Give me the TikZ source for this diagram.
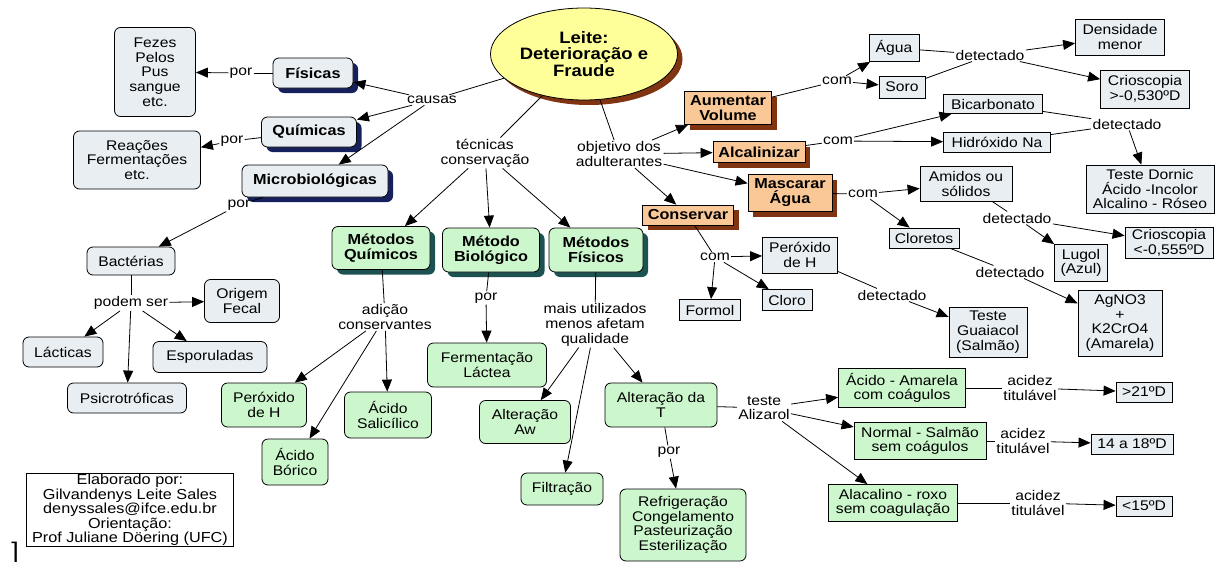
\documentclass[tikz,border=0pt]{standalone}
\usepackage{fontspec}
\setmainfont{Liberation Sans}[FakeStretch=1.12]
\usetikzlibrary{positioning,shapes.geometric,shadows,arrows.meta}

\definecolor{boxblue}{RGB}{232,238,242}
\definecolor{mgreen}{RGB}{204,247,204}
\definecolor{morange}{RGB}{250,200,150}
\definecolor{leiteyel}{RGB}{255,255,153}
\definecolor{navyshade}{RGB}{22,32,92}
\definecolor{tealshade}{RGB}{28,82,82}
\definecolor{brownshade}{RGB}{128,52,18}

\newcommand{\mapfont}{\fontsize{14}{14.7}\selectfont}
\newcommand{\mapfontb}{\fontsize{14.5}{15}\selectfont\bfseries}

\tikzset{
    wh/.style 2 args={minimum width=#1pt, minimum height=#2pt},
    cbox/.style={draw, rounded corners=6pt, fill=boxblue, align=center, inner xsep=2pt, inner ysep=1.5pt, font=\mapfont},
    cboxb/.style={cbox, font=\mapfontb, drop shadow={shadow xshift=5pt, shadow yshift=-5pt, fill=navyshade, opacity=1}},
    gbox/.style={draw, rounded corners=6pt, fill=mgreen, align=center, inner xsep=2pt, inner ysep=1.5pt, font=\mapfont},
    gboxb/.style={gbox, font=\mapfontb, drop shadow={shadow xshift=5pt, shadow yshift=-5pt, fill=tealshade, opacity=1}},
    rbox/.style={draw, fill=boxblue, align=center, inner xsep=2pt, inner ysep=1pt, font=\mapfont},
    grect/.style={rbox, fill=mgreen},
    obox/.style={rbox, font=\mapfontb, fill=morange, drop shadow={shadow xshift=5pt, shadow yshift=-5pt, fill=brownshade, opacity=1}},
    lbl/.style={inner sep=1pt, align=center, font=\mapfont},
    arr/.style={-{Triangle[length=12pt,width=10pt]}}
}

\begin{document}
\begin{tikzpicture}[x=1pt, y=-1pt, line width=0.8pt]
        \path[use as bounding box, fill=white] (0,0) rectangle (1215,562);

        \node[ellipse, draw, fill=leiteyel, wh={187}{92}, inner sep=0pt, align=center,
              font=\fontsize{16.5}{16.5}\selectfont\bfseries,
              drop shadow={shadow xshift=5pt, shadow yshift=-5pt, fill=brownshade, opacity=1}]
              (leite) at (584,54) {Leite:\\Deterioração e\\Fraude};

        % causas
        \node[lbl] (causas) at (432,100) {causas};
        \node[cboxb, wh={80}{30}] (fis) at (313,73) {Físicas};
        \node[cboxb, wh={95}{30}] (qui) at (309,132) {Químicas};
        \node[cboxb, wh={146}{32}] (mic) at (315,181) {Microbiológicas};
        \node[lbl] (por1) at (241,73) {por};
        \node[lbl] (por2) at (232,141) {por};
        \node[lbl] (por3) at (239,205) {por};
        \node[cbox, wh={81}{89}] (fez) at (155,72) {Fezes\\Pelos\\Pus\\sangue\\etc.};
        \node[cbox, wh={127}{58}] (rea) at (137,160) {Reações\\Fermentações\\etc.};
        \node[cbox, wh={88}{28}] (bac) at (131,261) {Bactérias};
        \node[lbl] (podem) at (131,303) {podem ser};
        \node[cbox, wh={75}{43}] (ori) at (242,301) {Origem\\Fecal};
        \node[cbox, wh={80}{30}] (lac) at (63,352) {Lácticas};
        \node[cbox, wh={114}{31}] (esp) at (210,357) {Esporuladas};
        \node[cbox, wh={119}{30}] (psi) at (127,398) {Psicrotróficas};

        % conservacao
        \node[lbl] (tec) at (485,153) {técnicas\\conservação};
        \node[gboxb, wh={98}{43}] (mq) at (381,248) {Métodos\\Químicos};
        \node[gboxb, wh={97}{44}] (mb) at (491,250) {Método\\Biológico};
        \node[gboxb, wh={94}{44}] (mf) at (596,250) {Métodos\\Físicos};
        \node[lbl] (adic) at (385,317) {adição\\conservantes};
        \node[gbox, wh={85}{44}] (perq) at (264,405) {Peróxido\\de H};
        \node[gbox, wh={66}{46}] (bor) at (295,462) {Ácido\\Bórico};
        \node[gbox, wh={87}{46}] (sal) at (388,415) {Ácido\\Salicílico};
        \node[lbl] (por4) at (486,298) {por};
        \node[gbox, wh={119}{44}] (fer) at (487,365) {Fermentação\\Láctea};
        \node[lbl] (mais) at (595,325) {mais utilizados\\menos afetam\\qualidade};
        \node[gbox, wh={91}{43}] (aw) at (525,422) {Alteração\\Aw};
        \node[gbox, wh={82}{32}] (fil) at (562,489) {Filtração};
        \node[gbox, wh={112}{44}] (alt) at (661,405) {Alteração da\\T};
        \node[lbl] (por5) at (669,452) {por};
        \node[gbox, wh={126}{72}] (ref) at (683,525) {Refrigeração\\Congelamento\\Pasteurização\\Esterilização};
        \node[lbl] (teste) at (764,408) {teste\\Alizarol};
        \node[grect, wh={127}{39}] (aci) at (902,388) {Ácido - Amarela\\com coágulos};
        \node[grect, wh={132}{37}] (nor) at (920,441) {Normal - Salmão\\sem coágulos};
        \node[grect, wh={129}{37}] (ala) at (893,503) {Alacalino - roxo\\sem coagulação};
        \node[lbl] (tit1) at (1030,388) {acidez\\titulável};
        \node[lbl] (tit2) at (1023,441) {acidez\\titulável};
        \node[lbl] (tit3) at (1038,503) {acidez\\titulável};
        \node[rbox, wh={56}{20}] (v1) at (1144,392) {>21ºD};
        \node[rbox, wh={82}{20}] (v2) at (1132,444) {14 a 18ºD};
        \node[rbox, wh={56}{20}] (v3) at (1144,506) {<15ºD};

        % fraude
        \node[lbl] (obj) at (619,154) {objetivo dos\\adulterantes};
        \node[obox, wh={87}{33}] (aum) at (728,108) {Aumentar\\Volume};
        \node[obox, wh={92}{21}] (alc) at (759,152) {Alcalinizar};
        \node[obox, wh={84}{37}] (mas) at (790,193) {Mascarar\\Água};
        \node[obox, wh={91}{20}] (con) at (688,215) {Conservar};
        \node[lbl] (com1) at (837,81) {com};
        \node[rbox, wh={50}{27}] (agu) at (894,48) {Água};
        \node[rbox, wh={46}{22}] (sor) at (902,87) {Soro};
        \node[lbl] (det1) at (990,55) {detectado};
        \node[rbox, wh={89}{36}] (den) at (1120,37) {Densidade\\menor};
        \node[rbox, wh={89}{38}] (cri1) at (1145,89) {Crioscopia\\>-0,530ºD};
        \node[lbl] (com2) at (838,141) {com};
        \node[rbox, wh={99}{19}] (bic) at (993,104) {Bicarbonato};
        \node[rbox, wh={107}{20}] (hid) at (997,142) {Hidróxido Na};
        \node[lbl] (det2) at (1127,124) {detectado};
        \node[rbox, wh={128}{48}] (dor) at (1150,189) {Teste Dornic\\Ácido -Incolor\\Alcalino - Róseo};
        \node[lbl] (com3) at (863,194) {com};
        \node[rbox, wh={92}{35}] (ami) at (966,184) {Amidos ou\\sólidos};
        \node[rbox, wh={70}{20}] (clo) at (924,238) {Cloretos};
        \node[lbl] (det3) at (1017,218) {detectado};
        \node[rbox, wh={53}{37}] (lug) at (1081,263) {Lugol\\(Azul)};
        \node[rbox, wh={88}{31}] (cri2) at (1169,243) {Crioscopia\\<-0,555ºD};
        \node[lbl] (det4) at (1010,272) {detectado};
        \node[rbox, wh={84}{66}] (agn) at (1120,323) {AgNO3\\+\\K2CrO4\\(Amarela)};
        \node[lbl] (com4) at (715,257) {com};
        \node[rbox, wh={75}{36}] (perc) at (800,255) {Peróxido\\de H};
        \node[rbox, wh={61}{21}] (for) at (710,310) {Formol};
        \node[rbox, wh={50}{21}] (clr) at (787,300) {Cloro};
        \node[lbl] (det5) at (892,295) {detectado};
        \node[rbox, wh={78}{50}] (gua) at (988,332) {Teste\\Guaiacol\\(Salmão)};

        \node[draw, fill=white, wh={207}{73}, align=center, inner sep=1pt,
              font=\fontsize{14.5}{13.4}\selectfont] (cred) at (130,510)
              {Elaborado por:\\Gilvandenys Leite Sales\\denyssales@ifce.edu.br\\Orientação:\\Prof Juliane Döering (UFC)};
        \node[inner sep=0pt, font=\fontsize{24}{24}\selectfont] (brk) at (15,553) {]};

        \draw (leite) -- (causas);
        \draw[arr] (causas) -- (fis);
        \draw[arr] (causas) -- (qui);
        \draw[arr] (causas) -- (mic);
        \draw (fis) -- (por1);
        \draw[arr] (por1) -- (fez);
        \draw (qui) -- (por2);
        \draw[arr] (por2) -- (rea);
        \draw (mic) -- (por3);
        \draw[arr] (por3) -- (bac);
        \draw (bac) -- (podem);
        \draw[arr] (podem) -- (ori);
        \draw[arr] (podem) -- (lac);
        \draw[arr] (podem) -- (esp);
        \draw[arr] (podem) -- (psi);

        \draw (leite) -- (tec);
        \draw[arr] (tec) -- (mq);
        \draw[arr] (tec) -- (mb);
        \draw[arr] (tec) -- (mf);
        \draw (mq) -- (adic);
        \draw[arr] (adic) -- (perq);
        \draw[arr] (adic) -- (bor);
        \draw[arr] (adic) -- (sal);
        \draw (mb) -- (por4);
        \draw[arr] (por4) -- (fer);
        \draw (mf) -- (mais);
        \draw[arr] (mais) -- (aw);
        \draw[arr] (mais) -- (fil);
        \draw[arr] (mais) -- (alt);
        \draw (alt) -- (por5);
        \draw[arr] (por5) -- (ref);
        \draw (alt) -- (teste);
        \draw[arr] (teste) -- (aci);
        \draw[arr] (teste) -- (nor);
        \draw[arr] (teste) -- (ala);
        \draw (aci) -- (tit1);
        \draw[arr] (tit1) -- (v1);
        \draw (nor) -- (tit2);
        \draw[arr] (tit2) -- (v2);
        \draw (ala) -- (tit3);
        \draw[arr] (tit3) -- (v3);

        \draw (leite) -- (obj);
        \draw[arr] (obj) -- (aum);
        \draw[arr] (obj) -- (alc);
        \draw[arr] (obj) -- (mas);
        \draw[arr] (obj) -- (con);
        \draw (aum) -- (com1);
        \draw[arr] (com1) -- (agu);
        \draw[arr] (com1) -- (sor);
        \draw (agu) -- (det1);
        \draw (sor) -- (det1);
        \draw[arr] (det1) -- (den);
        \draw[arr] (det1) -- (cri1);
        \draw (alc) -- (com2);
        \draw[arr] (com2) -- (bic);
        \draw[arr] (com2) -- (hid);
        \draw (bic) -- (det2);
        \draw (hid) -- (det2);
        \draw[arr] (det2) -- (dor);
        \draw (mas) -- (com3);
        \draw[arr] (com3) -- (ami);
        \draw[arr] (com3) -- (clo);
        \draw (ami) -- (det3);
        \draw[arr] (det3) -- (lug);
        \draw[arr] (det3) -- (cri2);
        \draw (clo) -- (det4);
        \draw[arr] (det4) -- (agn);
        \draw (con) -- (com4);
        \draw[arr] (com4) -- (perc);
        \draw[arr] (com4) -- (for);
        \draw[arr] (com4) -- (clr);
        \draw (perc) -- (det5);
        \draw[arr] (det5) -- (gua);
\end{tikzpicture}
\end{document}
